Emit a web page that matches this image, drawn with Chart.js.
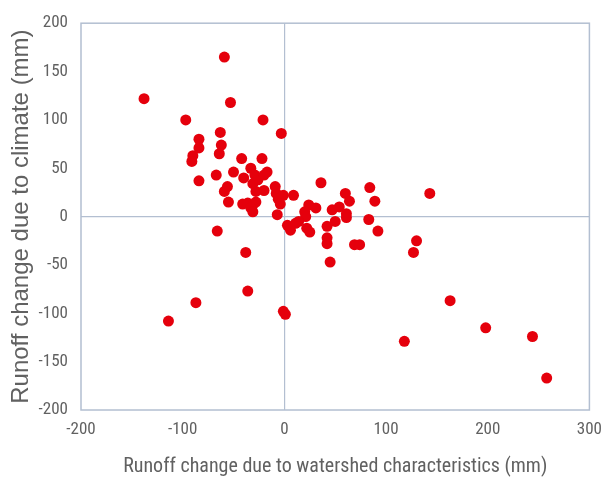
<!DOCTYPE html>
<html>
<head>
<meta charset="utf-8">
<script src="https://cdn.jsdelivr.net/npm/chart.js@4"></script>
<style>
  html, body { margin: 0; padding: 0; background: #fff; }
  #wrap { width: 612px; height: 482px; }
</style>
</head>
<body>
<div id="wrap"><canvas id="myChart" width="612" height="482"></canvas></div>
<script>
// runoff change due to watershed characteristics (mm)
var watershedValues = [
  -138, -59, -53, -97, -21, -3, -63, -62, -64, -84, -84, -90, -91, -84,
  -42, -22, -67, -50, -56, -59, -55, -40, -33, -29, -31, -26, -20, -17,
  -20, -28, -41, -36, -31, -28, -33, -31, -9, -8, -1, -6, -4, -7, 9, 36,
  84, 60, 64, 89, 143, 24, 31, 47, 54, 61, 61, 83, 20, 21, 14, 3, 6, 11,
  22, 25, 42, 50, 92, 42, 42, 69, 74, 130, 127, 45, 163, 198, 244, 118, 258,
  -66, -38, -36, -87, -114, -1, 1
];
// runoff change due to climate (mm)
var climateValues = [
  122, 165, 118, 100, 100, 86, 87, 74, 65, 80, 71, 63, 57, 37,
  60, 60, 43, 46, 31, 26, 15, 40, 50, 43, 34, 38, 43, 46,
  27, 26, 13, 14, 12, 15, 9, 5, 31, 24, 22, 18, 13, 2, 22, 35,
  30, 24, 16, 16, 24, 12, 9, 7, 10, 3, -1, -3, 5, 0, -5, -9, -14, -7,
  -12, -16, -10, -5, -15, -22, -28, -29, -29, -25, -37, -47, -87, -115, -124, -129, -167,
  -15, -37, -77, -89, -108, -98, -101
];
var xTicks = [-200, -100, 0, 100, 200, 300];
var yTicks = [-200, -150, -100, -50, 0, 50, 100, 150, 200];

var points = watershedValues.map(function (x, i) {
  return { x: x, y: climateValues[i] };
});

var narrow = "'Roboto Condensed', 'Liberation Sans Narrow', sans-serif";
var tickFont = { family: narrow, size: 17 };
var grey = "#616161";
var lineColor = "#b3bfd1";

// frame round the plot area
var framePlugin = {
  id: "frame",
  beforeDatasetsDraw: function (chart) {
    var a = chart.chartArea;
    var ctx = chart.ctx;
    ctx.save();
    ctx.strokeStyle = lineColor;
    ctx.lineWidth = 1.5;
    ctx.strokeRect(a.left, a.top, a.right - a.left, a.bottom - a.top);
    ctx.restore();
  }
};

function zeroLine(context) {
  return context.tick && context.tick.value === 0 ? lineColor : "rgba(0,0,0,0)";
}

var chartContext = document.getElementById("myChart").getContext("2d");
var chart = new Chart(chartContext, {
  type: "scatter",
  data: {
    datasets: [
      {
        data: points,
        backgroundColor: "#e5000c",
        borderWidth: 0,
        pointRadius: 5.5,
        pointHoverRadius: 5.5
      }
    ]
  },
  options: {
    responsive: false,
    animation: false,
    layout: { padding: { top: 20, right: 16, left: 0, bottom: 0 } },
    plugins: { legend: { display: false }, tooltip: { enabled: false } },
    scales: {
      x: {
        type: "linear",
        min: -200,
        max: 300,
        afterBuildTicks: function (scale) {
          scale.ticks = xTicks.map(function (v) { return { value: v }; });
        },
        afterFit: function (scale) { scale.height = 72; },
        ticks: { color: grey, font: tickFont, padding: 10, maxRotation: 0 },
        grid: { color: zeroLine, lineWidth: 1.2, drawTicks: false },
        border: { display: false },
        title: {
          display: true,
          text: "Runoff change due to watershed characteristics (mm)",
          color: grey,
          font: { family: narrow, size: 20 },
          padding: { top: 0, bottom: 3 }
        }
      },
      y: {
        type: "linear",
        min: -200,
        max: 200,
        afterBuildTicks: function (scale) {
          scale.ticks = yTicks.map(function (v) { return { value: v }; });
        },
        afterFit: function (scale) { scale.width = 81; },
        ticks: { color: grey, font: tickFont, padding: 13 },
        grid: { color: zeroLine, lineWidth: 1.2, drawTicks: false },
        border: { display: false },
        title: {
          display: true,
          text: "Runoff change due to climate (mm)",
          color: grey,
          font: { family: "'Liberation Sans', Arial, sans-serif", size: 24 },
          padding: { top: 7, bottom: 0 }
        }
      }
    }
  },
  plugins: [framePlugin]
});
</script>
</body>
</html>
